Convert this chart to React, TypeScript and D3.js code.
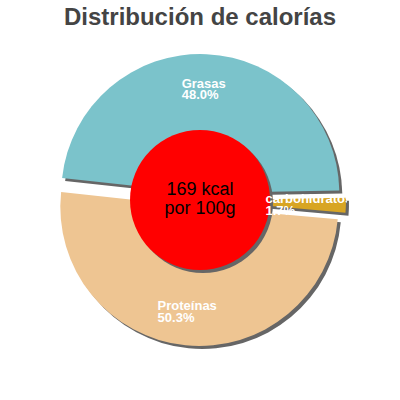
import { useMemo } from "react";
import * as d3 from "d3";

const title = "Distribución de calorías";
const categories = ["Grasas", "carbohidratos", "Proteínas"];
const shares = [48.0, 1.7, 50.3];
const colors = ["#7bc3cb", "#d8a523", "#eec592"];
const centerLines = ["169 kcal", "por 100g"];

const width = 400;
const height = 400;
const cx = 200;
const cy = 200;
const outerR = 139;
const holeR = 70;
const explode = 7;
const startDeg = -83.8;
const labelFont = "bold 13px 'Liberation Sans', Arial, sans-serif";

type Slice = d3.PieArcDatum<number>;

const App = () => {
  const start = (startDeg * Math.PI) / 180;
  const pie = d3
    .pie<number>()
    .sort(null)
    .value((d) => d)
    .startAngle(start)
    .endAngle(start + 2 * Math.PI);
  const slices = pie(shares);

  const arc = d3.arc<Slice>().innerRadius(0).outerRadius(outerR);
  const labelArc = d3.arc<Slice>().innerRadius(holeR).outerRadius(outerR);

  // measure label widths so each block is centred on its slice
  const measure = useMemo(() => {
    const ctx = document.createElement("canvas").getContext("2d");
    return (s: string) => {
      if (!ctx) return s.length * 7;
      ctx.font = labelFont;
      return ctx.measureText(s).width;
    };
  }, []);

  const shift = (d: Slice) => {
    const mid = (d.startAngle + d.endAngle) / 2;
    return [explode * Math.sin(mid), -explode * Math.cos(mid)];
  };

  return (
    <svg
      width={width}
      height={height}
      style={{ position: "absolute", left: 0, top: 0 }}
      fontFamily="'Liberation Sans', Arial, sans-serif"
    >
      <defs>
        <clipPath id="labelClip">
          <rect x={0} y={0} width={347} height={height} />
        </clipPath>
      </defs>
      <text
        x={width / 2}
        y={25}
        textAnchor="middle"
        fontSize={24}
        fontWeight="bold"
        fill="#444"
      >
        {title}
      </text>

      <g transform={`translate(${cx},${cy})`}>
        {/* shadows */}
        {slices.map((d, i) => {
          const [dx, dy] = shift(d);
          return (
            <path
              key={"s" + i}
              d={arc(d) ?? ""}
              transform={`translate(${dx + 3},${dy + 3})`}
              fill="#666"
            />
          );
        })}
        {slices.map((d, i) => {
          const [dx, dy] = shift(d);
          return (
            <path
              key={"p" + i}
              d={arc(d) ?? ""}
              transform={`translate(${dx},${dy})`}
              fill={colors[i]}
            />
          );
        })}

        <circle cx={3} cy={3} r={holeR} fill="#666" />
        <circle cx={0} cy={0} r={holeR} fill="#ff0000" />
        {centerLines.map((t, i) => (
          <text
            key={t}
            x={0}
            y={-5 + i * 19}
            textAnchor="middle"
            fontSize={18}
            fill="#000"
          >
            {t}
          </text>
        ))}

        <g clipPath="url(#labelClip)" transform={`translate(${-cx},${-cy})`}>
          {slices.map((d, i) => {
            const [dx, dy] = shift(d);
            const [lx, ly] = labelArc.centroid(d);
            const pct = shares[i].toFixed(1) + "%";
            const w = Math.max(measure(categories[i]), measure(pct));
            const x = cx + lx + dx - w * 0.53;
            const y = cy + ly + dy - 1;
            return (
              <text key={"l" + i} fill="#fff" style={{ font: labelFont }}>
                <tspan x={x} y={y}>
                  {categories[i]}
                </tspan>
                <tspan x={x} y={y + 11.7}>
                  {pct}
                </tspan>
              </text>
            );
          })}
        </g>
      </g>
    </svg>
  );
};

export default App;
